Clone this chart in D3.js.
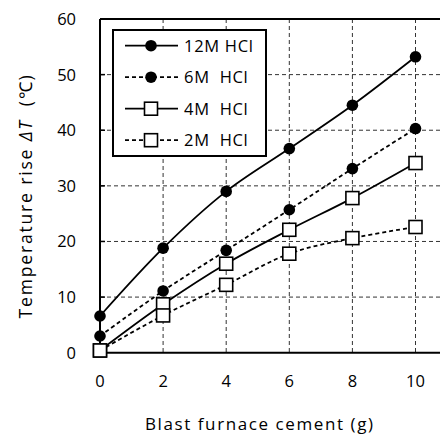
<!DOCTYPE html>
<html><head><meta charset="utf-8">
<script src="https://cdn.jsdelivr.net/npm/d3@7"></script>
<style>body{margin:0;background:#fff}</style>
</head><body>
<svg id="c" width="440" height="435"></svg>
<script>
const xValues = [0, 2, 4, 6, 8, 10];
const s12M = [6.6, 18.8, 29.0, 36.7, 44.5, 53.2];
const s6M  = [3.0, 11.1, 18.4, 25.7, 33.1, 40.3];
const s4M  = [0.4, 8.7, 16.0, 22.1, 27.8, 34.1];
const s2M  = [0.4, 6.7, 12.2, 17.8, 20.6, 22.6];
const seriesNames = ["12M HCl", "6M  HCl", "4M  HCl", "2M  HCl"];
const xTicks = [0, 2, 4, 6, 8, 10];
const yTicks = [0, 10, 20, 30, 40, 50, 60];

const series = [
  {name: seriesNames[0], vals: s12M, marker: "circle", dash: null},
  {name: seriesNames[1], vals: s6M,  marker: "circle", dash: "4,3"},
  {name: seriesNames[2], vals: s4M,  marker: "square", dash: null},
  {name: seriesNames[3], vals: s2M,  marker: "square", dash: "4,3"}
];

const font = "'Open Sans', sans-serif";
const svg = d3.select("#c");
const L = 100, T = 19, B = 352.7;
const x = d3.scaleLinear().domain([0, 11]).range([L, L + 11 * 31.55]);
const y = d3.scaleLinear().domain([0, 60]).range([B, T]);

// grid
const g = svg.append("g");
g.selectAll("line.h").data(yTicks.filter(d => d > 0 && d < 60)).join("line")
  .attr("x1", L).attr("x2", 440).attr("y1", d => y(d)).attr("y2", d => y(d))
  .attr("stroke", "#333").attr("stroke-width", 1).attr("stroke-dasharray", "4,3");
g.selectAll("line.v").data(xTicks.filter(d => d > 0)).join("line")
  .attr("x1", d => x(d)).attr("x2", d => x(d)).attr("y1", T).attr("y2", B)
  .attr("stroke", "#333").attr("stroke-width", 1).attr("stroke-dasharray", "4,3");

// frame
svg.append("line").attr("x1", L).attr("x2", 440).attr("y1", T).attr("y2", T).attr("stroke", "#000").attr("stroke-width", 2);
svg.append("line").attr("x1", L).attr("x2", 440).attr("y1", B).attr("y2", B).attr("stroke", "#000").attr("stroke-width", 2);
svg.append("line").attr("x1", L).attr("x2", L).attr("y1", T).attr("y2", B).attr("stroke", "#000").attr("stroke-width", 2);
svg.selectAll("line.yt").data(yTicks.filter(d => d > 0 && d < 60)).join("line")
  .attr("x1", L).attr("x2", L + 5).attr("y1", d => y(d)).attr("y2", d => y(d))
  .attr("stroke", "#000").attr("stroke-width", 1.5);

// tick labels
svg.selectAll("text.yl").data(yTicks).join("text")
  .attr("x", 76).attr("y", d => y(d)).attr("dy", "0.36em")
  .attr("text-anchor", "end").attr("font-family", font).attr("font-size", 16.5)
  .attr("fill", "#000").text(d => d);
svg.selectAll("text.xl").data(xTicks).join("text")
  .attr("x", d => x(d)).attr("y", 381.5).attr("dy", "0.36em")
  .attr("text-anchor", "middle").attr("font-family", font).attr("font-size", 16.5)
  .attr("fill", "#000").text(d => d);

// axis titles
svg.append("text").attr("x", 145).attr("y", 430)
  .attr("font-family", font).attr("font-size", 17)
  .attr("textLength", 228).attr("lengthAdjust", "spacing")
  .attr("xml:space", "preserve").style("white-space", "pre")
  .text("Blast furnace cement (g)");
const yt = svg.append("text").attr("transform", "translate(31.5,196) rotate(-90)")
  .attr("text-anchor", "middle").attr("font-family", font).attr("font-size", 17.5)
  .attr("xml:space", "preserve").style("white-space", "pre");
yt.append("tspan").text("Temperature rise ");
yt.append("tspan").attr("font-style", "italic").text("ΔT");
yt.append("tspan").text("  (℃)");
{
  const len = yt.node().getComputedTextLength();
  yt.attr("letter-spacing", (245 - len) / 24);
}

// lines
const line = d3.line().x((d, i) => x(xValues[i])).y(d => y(d)).curve(d3.curveCatmullRom.alpha(0.5));
series.forEach(s => {
  svg.append("path").attr("d", line(s.vals)).attr("fill", "none")
    .attr("stroke", "#000").attr("stroke-width", 1.8)
    .attr("stroke-dasharray", s.dash);
});
function drawMarker(sel, type, cx, cy) {
  if (type === "circle") {
    sel.append("circle").attr("cx", cx).attr("cy", cy).attr("r", 5.8).attr("fill", "#000");
  } else {
    sel.append("rect").attr("x", cx - 6.5).attr("y", cy - 6.5).attr("width", 13).attr("height", 13)
      .attr("fill", "#fff").attr("stroke", "#000").attr("stroke-width", 1.6);
  }
}
series.forEach(s => {
  const mg = svg.append("g");
  s.vals.forEach((v, i) => drawMarker(mg, s.marker, x(xValues[i]), y(v)));
});

// legend
const lg = svg.append("g");
lg.append("rect").attr("x", 113).attr("y", 30).attr("width", 153).attr("height", 126)
  .attr("fill", "#fff").attr("stroke", "#000").attr("stroke-width", 2);
series.forEach((s, i) => {
  const ly = 45.7 + i * 31.5;
  lg.append("line").attr("x1", 125).attr("x2", 178).attr("y1", ly).attr("y2", ly)
    .attr("stroke", "#000").attr("stroke-width", 1.8).attr("stroke-dasharray", s.dash);
  drawMarker(lg, s.marker, 151, ly);
  lg.append("text").attr("x", 184).attr("y", ly).attr("dy", "0.36em")
    .attr("font-family", font).attr("font-size", 16.5).attr("letter-spacing", 0.7)
    .attr("xml:space", "preserve")
    .style("white-space", "pre").text(s.name);
});
</script>
</body></html>
